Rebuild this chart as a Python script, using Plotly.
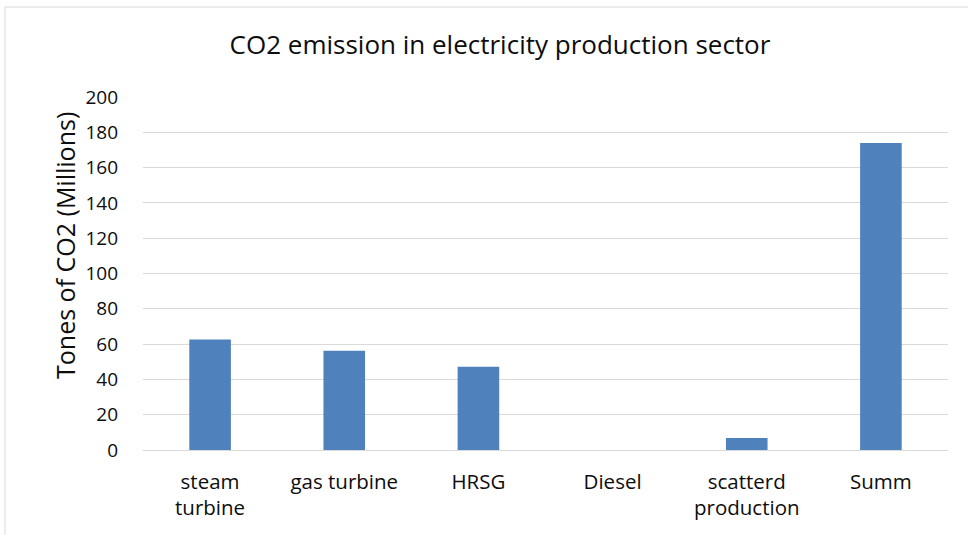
import plotly.graph_objects as go

categories = ["steam<br>turbine", "gas turbine", "HRSG", "Diesel", "scatterd<br>production", "Summ"]
values = [62.6, 56.3, 47.2, 0.0, 6.8, 173.9]
y_ticks = [0, 20, 40, 60, 80, 100, 120, 140, 160, 180, 200]

W, H = 968, 535
L, R, T, B = 143, 20, 97, 85
pw, ph = W - L - R, H - T - B
TXT = "#0d0d0d"

fig = go.Figure()
fig.add_trace(go.Bar(
    x=categories, y=values,
    marker=dict(color="#4f81bd", line=dict(width=0)),
))

def px_to_paper_x(px):
    return (px - L) / pw

def px_to_paper_y(py):
    return (H - B - py) / ph

fig.add_shape(type="rect", xref="paper", yref="paper",
              x0=px_to_paper_x(5), x1=px_to_paper_x(1000),
              y0=px_to_paper_y(600), y1=px_to_paper_y(7),
              line=dict(color="#d9d9d9", width=1), fillcolor="rgba(0,0,0,0)", layer="below")

font_family = "Open Sans, Liberation Sans, sans-serif"

fig.add_annotation(text="Tones of CO2 (Millions)", xref="paper", yref="paper",
                   x=px_to_paper_x(65), y=px_to_paper_y(246),
                   xanchor="center", yanchor="middle", textangle=-90, showarrow=False,
                   font=dict(family=font_family, size=25, color=TXT))

fig.update_layout(
    width=W, height=H,
    margin=dict(l=L, r=R, t=T, b=B, autoexpand=False),
    paper_bgcolor="white", plot_bgcolor="white",
    bargap=0.69,
    showlegend=False,
    title=dict(text="CO2 emission in electricity production sector",
               x=500 / W, xref="container", xanchor="center",
               y=1 - 45 / H, yref="container", yanchor="middle",
               font=dict(family=font_family, size=26, color=TXT)),
    font=dict(family=font_family, color=TXT),
)
fig.update_xaxes(
    showgrid=False, showline=True, linecolor="#d9d9d9", linewidth=1,
    ticks="", tickfont=dict(size=20.5, color=TXT), ticklabelstandoff=13,
)
fig.update_yaxes(
    range=[0, 200], tickvals=y_ticks,
    showgrid=True, gridcolor="#d9d9d9", gridwidth=1,
    zeroline=False, showline=False, ticks="",
    tickfont=dict(size=19, color=TXT), ticklabelstandoff=24,
)

fig.write_html("out.html", config={"displayModeBar": False},
               post_script="document.body.style.margin='0';")
